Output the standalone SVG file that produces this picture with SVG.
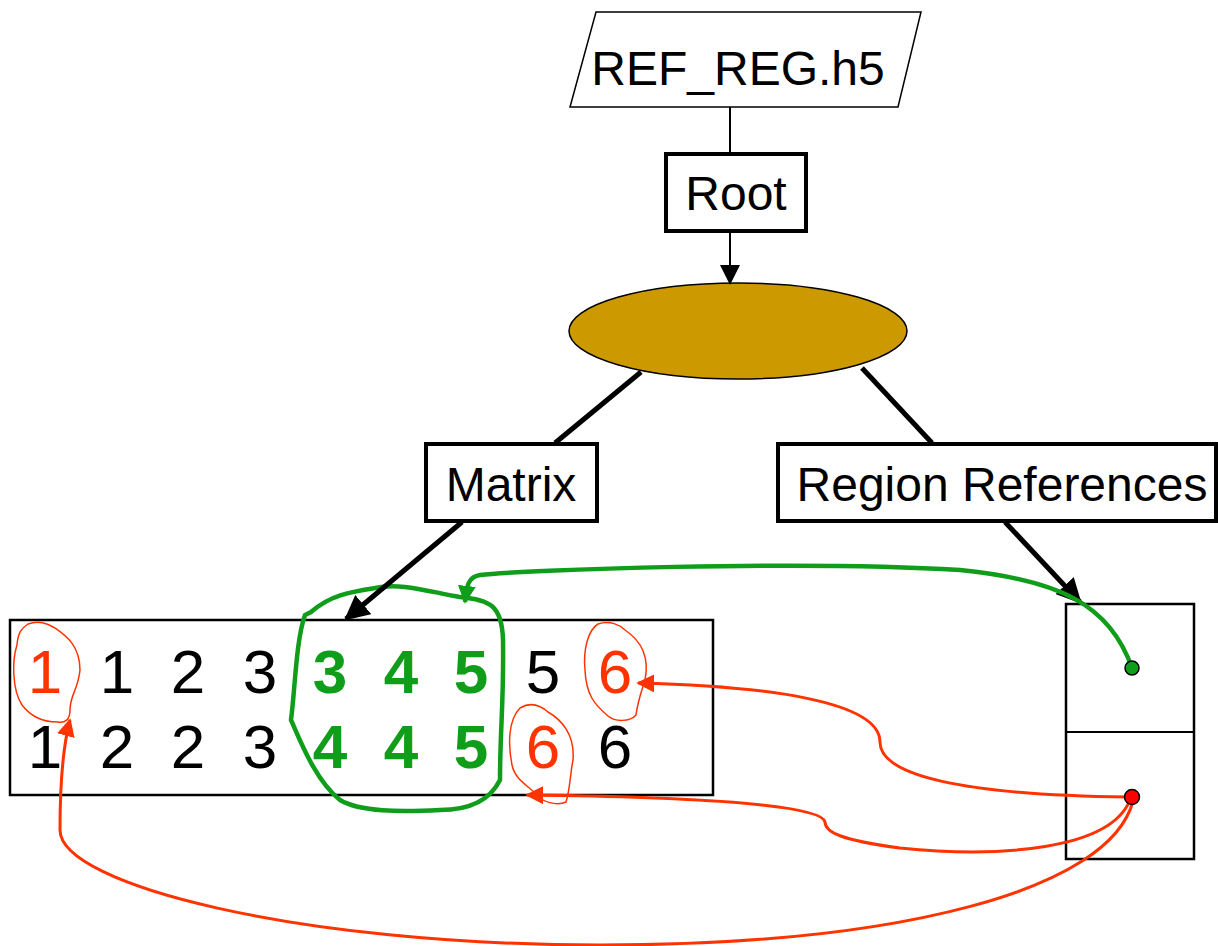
<svg xmlns="http://www.w3.org/2000/svg" width="1218" height="946" viewBox="0 0 1218 946">
<style>
.t{font-family:"Liberation Sans",Arial,sans-serif;fill:#000}
.lbl{font-size:48px}
.num{font-size:62px;text-anchor:middle}
.g{fill:#0F9D1A;font-weight:bold}
.r{fill:#FF3300}
.box{fill:#fff;stroke:#000}
</style>
<defs>
<marker id="ab" viewBox="0 0 10 10" refX="9" refY="5" markerWidth="5" markerHeight="5" orient="auto" markerUnits="strokeWidth"><path d="M0,0L10,5L0,10z" fill="#000"/></marker>
<marker id="ab2" viewBox="0 0 10 10" refX="9" refY="5" markerWidth="10" markerHeight="10" orient="auto" markerUnits="strokeWidth"><path d="M0,0L10,5L0,10z" fill="#000"/></marker>
<marker id="ag" viewBox="0 0 10 10" refX="9" refY="5" markerWidth="4" markerHeight="4" orient="auto" markerUnits="strokeWidth"><path d="M0,0L10,5L0,10z" fill="#0F9D1A"/></marker>
<marker id="ar" viewBox="0 0 10 10" refX="9" refY="5" markerWidth="6" markerHeight="6" orient="auto" markerUnits="strokeWidth"><path d="M0,0L10,5L0,10z" fill="#FF3300"/></marker>
</defs>

<g id="file">
<polygon points="596,12 921,12 898,107 570,107" fill="#fff" stroke="#000" stroke-width="1.5"/>
<text class="t lbl" x="738" y="85" text-anchor="middle">REF_REG.h5</text>
</g>

<g id="root">
<rect class="box" x="666" y="154" width="140" height="77" stroke-width="4"/>
<text class="t lbl" x="736" y="210" text-anchor="middle">Root</text>
</g>

<g id="group">
<ellipse cx="738" cy="331" rx="169" ry="48" fill="#CC9900" stroke="#000" stroke-width="1.5"/>
</g>

<g id="matrix">
<rect class="box" x="426" y="444" width="171" height="77" stroke-width="4"/>
<text class="t lbl" x="511" y="501" text-anchor="middle">Matrix</text>
</g>

<g id="regionrefs">
<rect class="box" x="778" y="444" width="438" height="77" stroke-width="4"/>
<text class="t lbl" x="1002" y="501" text-anchor="middle">Region References</text>
</g>

<g id="data">
<rect class="box" x="10" y="620" width="703" height="175" stroke-width="2.5"/>
<text class="t num r" x="45" y="693">1</text>
<text class="t num" x="117" y="693">1</text>
<text class="t num" x="188" y="693">2</text>
<text class="t num" x="260" y="693">3</text>
<text class="t num g" x="330" y="693">3</text>
<text class="t num g" x="401" y="693">4</text>
<text class="t num g" x="471" y="693">5</text>
<text class="t num" x="543" y="693">5</text>
<text class="t num r" x="615" y="693">6</text>
<text class="t num" x="45" y="768">1</text>
<text class="t num" x="117" y="768">2</text>
<text class="t num" x="188" y="768">2</text>
<text class="t num" x="260" y="768">3</text>
<text class="t num g" x="330" y="768">4</text>
<text class="t num g" x="401" y="768">4</text>
<text class="t num g" x="471" y="768">5</text>
<text class="t num r" x="543" y="768">6</text>
<text class="t num" x="615" y="768">6</text>
</g>

<g id="refs">
<rect class="box" x="1066" y="604" width="128" height="255" stroke-width="2.5"/>
<line x1="1066" y1="732" x2="1194" y2="732" stroke="#000" stroke-width="2"/>
</g>

<g id="highlights" fill="none">
<path d="M311,612 C330,595 350,592 375,588 C400,582 430,592 460,597 C490,600 502,605 503,640 C504,700 500,730 500,780 C490,800 470,810 440,810 C400,812 360,812 340,800 C315,780 300,740 291,720 C295,690 296,640 305,615 Z" stroke="#0F9D1A" stroke-width="4.5"/>
<path d="M28,624 C40,620 48,624 55,628 C65,635 80,645 80,670 C78,690 70,695 70,710 C70,720 65,723 58,722 C40,722 30,715 22,705 C12,690 12,660 17,645 C18,632 22,628 28,624 Z" stroke="#FF3300" stroke-width="1.5"/>
<path d="M598,624 C610,620 620,625 625,630 C640,640 650,655 645,680 C642,690 638,700 636,715 C630,722 615,722 608,716 C595,705 586,695 585,670 C583,650 588,630 598,624 Z" stroke="#FF3300" stroke-width="1.5"/>
<path d="M520,708 C530,702 540,705 548,712 C562,720 575,735 573,760 C570,775 570,790 566,802 C560,805 548,804 540,798 C528,785 515,780 512,765 C508,745 508,720 520,708 Z" stroke="#FF3300" stroke-width="1.5"/>
</g>

<g id="connectors" fill="none">
<line x1="730" y1="107" x2="730" y2="152" stroke="#000" stroke-width="2"/>
<line x1="730" y1="232" x2="730" y2="283" stroke="#000" stroke-width="2" marker-end="url(#ab2)"/>
<line x1="641" y1="372" x2="555" y2="443" stroke="#000" stroke-width="5"/>
<line x1="862" y1="368" x2="932" y2="443" stroke="#000" stroke-width="5"/>
<line x1="462" y1="522" x2="346" y2="619" stroke="#000" stroke-width="5" marker-end="url(#ab)"/>
<line x1="1005" y1="522" x2="1080" y2="602" stroke="#000" stroke-width="5" marker-end="url(#ab)"/>
<path d="M1132,668 C1110,605 1060,580 960,570 C800,560 520,570 480,575 C468,577 467,585 465,602" stroke="#0F9D1A" stroke-width="4.5" marker-end="url(#ag)"/>
<path d="M1128,797 C960,795 880,775 880,742 C880,700 760,686 638,683" stroke="#FF3300" stroke-width="3" marker-end="url(#ar)"/>
<path d="M1130,800 C1110,850 1000,858 900,848 C840,840 825,832 825,822 C822,805 700,797 527,795" stroke="#FF3300" stroke-width="3" marker-end="url(#ar)"/>
<path d="M1133,801 C1110,890 900,945 600,945 C300,945 60,885 60,830 C60,790 62,750 70,720" stroke="#FF3300" stroke-width="3" marker-end="url(#ar)"/>
<circle cx="1132" cy="668" r="7" fill="#0F9D1A" stroke="#000" stroke-width="1.5"/>
<circle cx="1132" cy="797" r="7.5" fill="#FF0000" stroke="#000" stroke-width="1.5"/>
</g>
</svg>
